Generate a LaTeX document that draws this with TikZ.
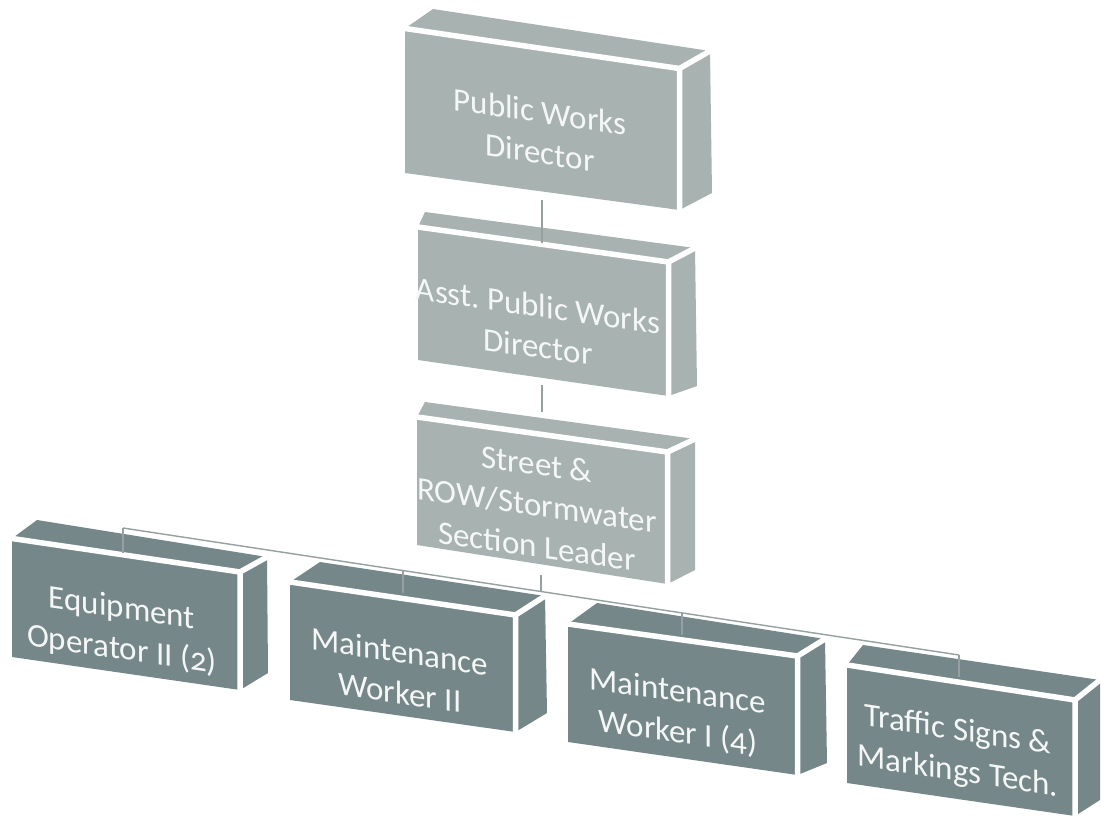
\documentclass[tikz,border=0pt]{standalone}
\usepackage{fontspec}
\setmainfont{Carlito}[Numbers=OldStyle]
\definecolor{lightbox}{RGB}{167,178,177}
\definecolor{darkbox}{RGB}{117,135,136}
\definecolor{conn}{RGB}{150,160,160}
\definecolor{labeltext}{RGB}{245,247,247}
\newcommand{\orgcube}[9]{%
  \coordinate (#1A) at (#2); \coordinate (#1B) at (#3);
  \coordinate (#1C) at (#4); \coordinate (#1D) at (#5);
  \coordinate (#1E) at (#6); \coordinate (#1F) at (#7);
  \coordinate (#1G) at (#8);
  \fill[#9] (#1A) -- (#1B) -- (#1C) -- (#1D) -- cycle;
  \fill[#9] (#1A) -- (#1E) -- (#1F) -- (#1B) -- cycle;
  \fill[#9] (#1B) -- (#1F) -- (#1G) -- (#1C) -- cycle;
  \draw[cubeedge] (#1A) -- (#1B) -- (#1C) (#1B) -- (#1F);
}
\begin{document}
\frenchspacing
\begin{tikzpicture}[x=1pt,y=-1pt,
  cubeedge/.style={draw=white,line width=5.5pt,line join=round,line cap=round},
  lbl/.style={align=center,inner sep=0pt,text=labeltext,font=\fontsize{33}{41}\selectfont},
  link/.style={draw=conn,line width=1.4pt}]
\useasboundingbox[fill=white] (0,0) rectangle (1101,819);

% upper boxes
\orgcube{b1}{405,28.5}{679.5,68.5}{679.5,210}{405,173}{433,9}{710,51}{712,193}{lightbox}
\orgcube{b2}{418,227}{668.5,262}{668.5,396}{418,360}{425,212}{695,248}{697,386}{lightbox}
\orgcube{b3}{417,417}{667.5,452}{667.5,584}{417,545}{425,402}{695,439}{695,570}{lightbox}
% lower boxes
\orgcube{c1}{12,538.5}{240,572}{240,690}{12,657}{37,520}{267,557}{268,673}{darkbox}
\orgcube{c2}{290,582}{515.5,615}{515.5,732}{290,700}{320,562}{545,596}{547,713}{darkbox}
\orgcube{c3}{568,624}{797.5,656}{797.5,775}{568,742}{597,603}{825,639}{827,763}{darkbox}
\orgcube{c4}{847,665}{1075,700}{1075,816}{847,783}{863,645}{1100,680}{1100,800}{darkbox}

% labels
\node[lbl,yslant=-0.146] (t1) at (540,132) {Public Works\\Director};
\node[lbl,yslant=-0.14] (t2) at (538,326) {Asst. Public Works\\Director};
\node[lbl,yslant=-0.14] (t3) at (537,505) {Street \&\\ROW/Stormwater\\Section Leader};
\node[lbl,yslant=-0.147] (u1) at (122,630) {Equipment\\Operator II (2)};
\node[lbl,yslant=-0.147] (u2) at (400,672) {Maintenance\\Worker II};
\node[lbl,yslant=-0.14] (u3) at (678,713) {Maintenance\\Worker I (4)};
\node[lbl,yslant=-0.153] (u4) at (958,752) {Traffic Signs \&\\Markings Tech.};

% connectors
\coordinate (v1a) at (542,200); \coordinate (v1b) at (542,243);
\coordinate (v2a) at (542,385); \coordinate (v2b) at (542,412);
\coordinate (v3a) at (541,575); \coordinate (v3b) at (541,591.5);
\coordinate (h1) at (123,528); \coordinate (h4) at (959,655);
\coordinate (h2) at (403,570.5); \coordinate (h3) at (682,613);
\coordinate (s1) at (123,553); \coordinate (s2) at (403,593);
\coordinate (s3) at (682,635); \coordinate (s4) at (959,677);
\draw[link] (v1a) -- (v1b);
\draw[link] (v2a) -- (v2b);
\draw[link] (v3a) -- (v3b);
\draw[link] (h1) -- (h4);
\draw[link] (h1) -- (s1);
\draw[link] (h2) -- (s2);
\draw[link] (h3) -- (s3);
\draw[link] (h4) -- (s4);
\end{tikzpicture}
\end{document}
